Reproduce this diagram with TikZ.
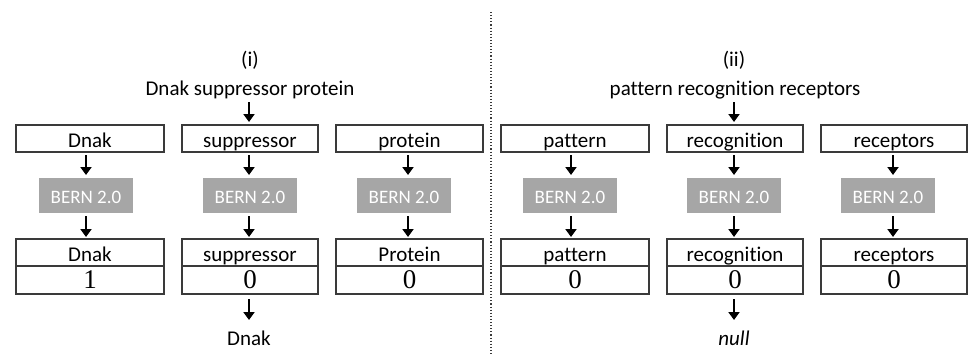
\documentclass[tikz,border=0pt]{standalone}
\usepackage{fontspec}
\setmainfont[Ligatures=NoCommon]{Carlito}
\newfontfamily\digitfont{Liberation Serif}
\usetikzlibrary{arrows.meta}
\definecolor{boxline}{HTML}{3A3A3A}
\definecolor{berngray}{HTML}{A6A6A6}
\begin{document}
\begin{tikzpicture}[x=1pt,y=-1pt,
  every node/.style={inner sep=0pt, outer sep=0pt},
  txt/.style={font={\fontsize{21}{25}\selectfont}},
  wordbox/.style={txt, draw=boxline, line width=1.4pt, minimum height=27pt,
    text height=17pt, text depth=0pt},
  scorebox/.style={font={\digitfont\fontsize{27}{31}\selectfont}, draw=boxline,
    line width=1.4pt, minimum height=28pt, text height=16.5pt, text depth=0pt},
  bern/.style={fill=berngray, text=white, font={\fontsize{19}{23}\selectfont},
    minimum width=94pt, minimum height=35pt, text height=15pt, text depth=0pt},
  label/.style={txt, anchor=base, text height=15pt, text depth=5pt},
  arr/.style={line width=2.6pt, -{Triangle[length=8pt,width=11pt]}},
]
\useasboundingbox (0,0) rectangle (969,356);

% column axes for the arrows
\coordinate (c1) at (86,0);
\coordinate (c2) at (249,0);
\coordinate (c3) at (408,0);
\coordinate (c4) at (571,0);
\coordinate (c5) at (734,0);
\coordinate (c6) at (893,0);

% divider between the two examples
\draw[dotted, line width=1.1pt, boxline] (491,12) -- (491,356);

% ---------- (i) ----------
\node[label] (hi) at (250,66.5) {(i)};
\node[label] (ttl1) at (250,95) {Dnak suppressor protein};

\node[wordbox, minimum width=148pt] (t1) at (90,138.5) {Dnak};
\node[wordbox, minimum width=136pt] (t2) at (250,138.5) {suppressor};
\node[wordbox, minimum width=147pt] (t3) at (409.5,138.5) {protein};

\node[bern] (b1) at (86,195.5) {BERN 2.0};
\node[bern] (b2) at (250,195.5) {BERN 2.0};
\node[bern] (b3) at (404,195.5) {BERN 2.0};

\node[wordbox, minimum width=148pt] (o1) at (90,252.5) {Dnak};
\node[wordbox, minimum width=136pt] (o2) at (250,252.5) {suppressor};
\node[wordbox, minimum width=147pt] (o3) at (409.5,252.5) {Protein};
\node[scorebox, minimum width=148pt] (v1) at (90,280) {1};
\node[scorebox, minimum width=136pt] (v2) at (250,280) {0};
\node[scorebox, minimum width=147pt] (v3) at (409.5,280) {0};

\node[label] (r1) at (249,345) {Dnak};

% ---------- (ii) ----------
\node[label] (hii) at (734,66.5) {(ii)};
\node[label] (ttl2) at (735,95) {pattern recognition receptors};

\node[wordbox, minimum width=148pt] (t4) at (575,138.5) {pattern};
\node[wordbox, minimum width=136pt] (t5) at (735,138.5) {recognition};
\node[wordbox, minimum width=146pt] (t6) at (894,138.5) {receptors};

\node[bern] (b4) at (570,195.5) {BERN 2.0};
\node[bern] (b5) at (734,195.5) {BERN 2.0};
\node[bern] (b6) at (888,195.5) {BERN 2.0};

\node[wordbox, minimum width=148pt] (o4) at (575,252.5) {pattern};
\node[wordbox, minimum width=136pt] (o5) at (735,252.5) {recognition};
\node[wordbox, minimum width=146pt] (o6) at (894,252.5) {receptors};
\node[scorebox, minimum width=148pt] (v4) at (575,280) {0};
\node[scorebox, minimum width=136pt] (v5) at (735,280) {0};
\node[scorebox, minimum width=146pt] (v6) at (894,280) {0};

\node[label, font={\fontsize{21}{25}\selectfont\itshape}] (r2) at (734,345) {null};

% ---------- arrows ----------
\draw[arr, shorten <=2pt, shorten >=3pt] (c2 |- ttl1.south) -- (c2 |- t2.north);
\draw[arr, shorten <=2pt, shorten >=3pt] (c5 |- ttl2.south) -- (c5 |- t5.north);

\foreach \i in {1,...,6}{
  \draw[arr, shorten <=3pt, shorten >=3pt] (c\i |- t\i.south) -- (c\i |- b\i.north);
  \draw[arr, shorten <=3pt, shorten >=2pt] (c\i |- b\i.south) -- (c\i |- o\i.north);
}

\draw[arr, shorten <=5pt, shorten >=10pt] (c2 |- v2.south) -- (c2 |- r1.north);
\draw[arr, shorten <=5pt, shorten >=10pt] (c5 |- v5.south) -- (c5 |- r2.north);
\end{tikzpicture}
\end{document}
